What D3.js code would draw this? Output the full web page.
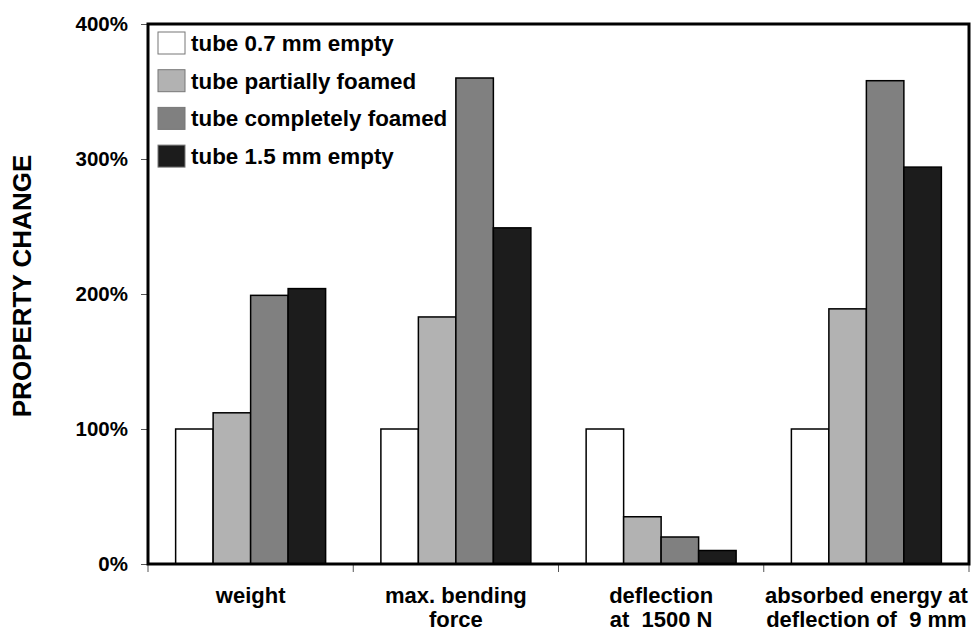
<!DOCTYPE html>
<html>
<head>
<meta charset="utf-8">
<script src="https://cdn.jsdelivr.net/npm/d3@7"></script>
<style>
  body { margin: 0; background: #fff; }
  text { font-family: "Liberation Sans", Arial, sans-serif; font-weight: bold; fill: #000; }
</style>
</head>
<body>
<div id="chart"></div>
<script>
// chart size
const width = 977;
const height = 632;

// data
const categories = [
    ["weight"],
    ["max. bending", "force"],
    ["deflection", "at  1500 N"],
    ["absorbed energy at", "deflection of  9 mm"]
];
const series = ["tube 0.7 mm empty", "tube partially foamed", "tube completely foamed", "tube 1.5 mm empty"];
const colors = ["#ffffff", "#b2b2b2", "#808080", "#1c1c1c"];
const empty07 = [100, 100, 100, 100];
const partFoamed = [112, 183, 35, 189];
const fullFoamed = [199, 360, 20, 358];
const empty15 = [204, 249, 10, 294];
const yTicks = [0, 100, 200, 300, 400];

const values = [empty07, partFoamed, fullFoamed, empty15];
const catKeys = categories.map(c => c.join(" "));

const margin = { left: 148, right: 8, top: 24, bottom: 68 };
const plotW = width - margin.left - margin.right;
const plotH = height - margin.top - margin.bottom;

const svg = d3.select("#chart").append("svg")
    .attr("width", width)
    .attr("height", height);

const g = svg.append("g")
    .attr("transform", `translate(${margin.left},${margin.top})`);

// scales
const x0 = d3.scaleBand().domain(catKeys).range([0, plotW]).padding(0);
const x1 = d3.scaleBand().domain(series).range([0, x0.bandwidth()])
    .paddingInner(0).paddingOuter(0.737);
const y = d3.scaleLinear().domain([0, 400]).range([plotH, 0]);

// bars
const groups = g.selectAll("g.cat")
    .data(catKeys)
    .enter()
    .append("g")
    .attr("class", "cat")
    .attr("transform", d => `translate(${x0(d)},0)`);

groups.selectAll("rect")
    .data((d, i) => series.map((s, j) => ({ s: s, j: j, v: values[j][i] })))
    .enter()
    .append("rect")
    .attr("x", d => x1(d.s))
    .attr("y", d => y(d.v))
    .attr("width", x1.bandwidth())
    .attr("height", d => plotH - y(d.v))
    .attr("fill", d => colors[d.j])
    .attr("stroke", "#000")
    .attr("stroke-width", 1.5);

// y axis
const yAxis = g.append("g")
    .call(d3.axisLeft(y).tickValues(yTicks).tickFormat(d => d + "%").tickSize(7).tickPadding(13));
yAxis.select(".domain").remove();
yAxis.selectAll("line").attr("stroke", "#555").attr("stroke-width", 1);
yAxis.selectAll("text")
    .style("font-size", "20.5px")
    .style("font-family", "Liberation Sans, Arial, sans-serif")
    .style("font-weight", "bold")
    .attr("fill", "#000");

// category boundary ticks on x axis
g.selectAll("line.xt")
    .data(catKeys.map(k => x0(k)).concat([plotW]))
    .enter()
    .append("line")
    .attr("class", "xt")
    .attr("x1", d => d)
    .attr("x2", d => d)
    .attr("y1", plotH)
    .attr("y2", plotH + 8)
    .attr("stroke", "#555")
    .attr("stroke-width", 1);

// frame
g.append("rect")
    .attr("x", 0)
    .attr("y", 0)
    .attr("width", plotW)
    .attr("height", plotH)
    .attr("fill", "none")
    .attr("stroke", "#000")
    .attr("stroke-width", 3);

// category labels
const labels = g.selectAll("text.cat")
    .data(categories)
    .enter()
    .append("text")
    .attr("class", "cat")
    .attr("text-anchor", "middle")
    .attr("xml:space", "preserve")
    .style("font-size", "22px")
    .attr("transform", (d, i) => `translate(${x0(catKeys[i]) + x0.bandwidth() / 2},${plotH + 39})`);

labels.selectAll("tspan")
    .data(d => d)
    .enter()
    .append("tspan")
    .attr("x", 0)
    .attr("y", (d, i) => i * 23.5)
    .text(d => d);

// y axis title
svg.append("text")
    .attr("transform", `translate(31,${margin.top + 262}) rotate(-90)`)
    .attr("text-anchor", "middle")
    .style("font-size", "26px")
    .text("PROPERTY CHANGE");

// legend
const legend = g.selectAll("g.leg")
    .data(series)
    .enter()
    .append("g")
    .attr("class", "leg")
    .attr("transform", (d, i) => `translate(10,${8 + i * 37.7})`);

legend.append("rect")
    .attr("width", 27)
    .attr("height", 22)
    .attr("fill", (d, i) => colors[i])
    .attr("stroke", "#777")
    .attr("stroke-width", 1);

legend.append("text")
    .attr("x", 33)
    .attr("y", 19)
    .style("font-size", "22.4px")
    .text(d => d);
</script>
</body>
</html>
